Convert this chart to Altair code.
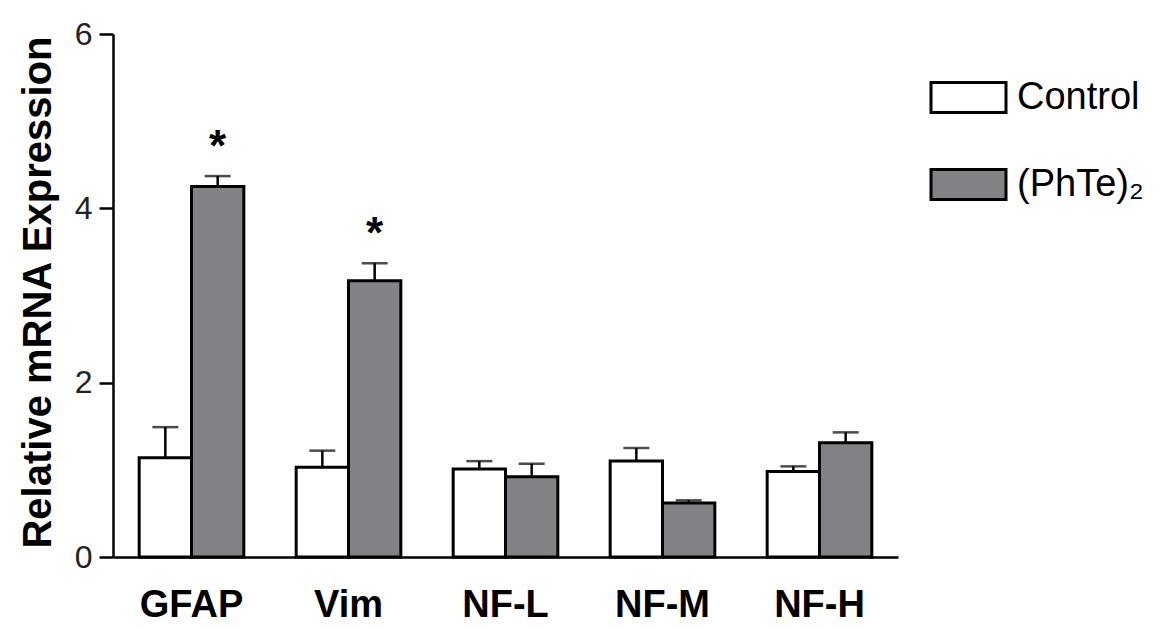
import altair as alt
import pandas as pd

genes = ["GFAP", "Vim", "NF-L", "NF-M", "NF-H"]
groups = ["Control", "(PhTe)₂"]
control_mean = [1.14, 1.03, 1.01, 1.10, 0.98]
control_sem = [0.35, 0.19, 0.09, 0.15, 0.06]
phte_mean = [4.25, 3.17, 0.92, 0.62, 1.31]
phte_sem = [0.12, 0.20, 0.15, 0.03, 0.12]
phte_significant = [True, True, False, False, False]
y_ticks = [0, 2, 4, 6]

rows = []
for i, g in enumerate(genes):
    rows.append({"gene": g, "group": groups[0], "mean": control_mean[i],
                 "hi": control_mean[i] + control_sem[i], "star": False})
    rows.append({"gene": g, "group": groups[1], "mean": phte_mean[i],
                 "hi": phte_mean[i] + phte_sem[i], "star": phte_significant[i]})
df = pd.DataFrame(rows)

FONT = "Liberation Sans"
GREY = "#838186"

x = alt.X("gene:N", sort=genes,
          scale=alt.Scale(paddingInner=0, paddingOuter=0),
          axis=alt.Axis(title=None, labelAngle=0, ticks=False, labelFont=FONT,
                        labelFontSize=38, labelFontWeight="bold", labelColor="black",
                        labelPadding=29, domainColor="black", domainWidth=2.5))
xo = alt.XOffset("group:N", sort=groups,
                 scale=alt.Scale(domain=groups, paddingInner=0, paddingOuter=0.5))
y_axis = alt.Axis(title="Relative mRNA Expression", values=y_ticks, format="d",
                  grid=False,
                  domainColor="black", domainWidth=2.5, tickColor="black",
                  tickWidth=2.5, tickSize=14, labelFont=FONT, labelFontSize=32,
                  labelColor="#222222", labelPadding=7, titleFont=FONT,
                  titleFontSize=40, titleFontWeight="bold", titleColor="black",
                  titleX=-63, titleY=258, titleBaseline="alphabetic",
                  titleAlign="center", titleAngle=270)
y_scale = alt.Scale(domain=[0, 6], nice=False)

base = alt.Chart(df)

err_line = base.mark_rule(color="black", strokeWidth=2.5).encode(
    x=x, xOffset=xo,
    y=alt.Y("mean:Q", scale=y_scale, axis=y_axis),
    y2="hi:Q")

bars = base.mark_bar(stroke="black", strokeWidth=3).encode(
    x=x, xOffset=xo,
    y=alt.Y("mean:Q", scale=y_scale, axis=y_axis),
    fill=alt.Fill("group:N", sort=groups,
                  scale=alt.Scale(domain=groups, range=["white", GREY]),
                  legend=alt.Legend(title=None, orient="none", legendX=824,
                                    legendY=32, direction="vertical",
                                    symbolType="M -1.25 -0.5 H 1.25 V 0.5 H -1.25 Z",
                                    symbolSize=3600, symbolStrokeColor="black",
                                    symbolStrokeWidth=3, labelFont=FONT,
                                    labelFontSize=38, labelColor="black",
                                    labelOffset=17, rowPadding=34,
                                    labelLimit=400)))

caps = base.mark_tick(color="black", size=26, thickness=2.5, orient="horizontal").encode(
    x=x, xOffset=xo,
    y=alt.Y("hi:Q", scale=y_scale))

stars = base.transform_filter("datum.star").mark_text(
    text="*", font=FONT, fontSize=44, fontWeight="bold", color="black",
    baseline="alphabetic", dy=-15).encode(
    x=x, xOffset=xo,
    y=alt.Y("hi:Q", scale=y_scale))

chart = alt.layer(err_line, bars, caps, stars).properties(
    width=785, height=523,
    padding={"left": 113, "top": 34, "right": 278, "bottom": 72},
    autosize=alt.AutoSizeParams(type="none"),
    background="white",
).configure_view(strokeWidth=0, stroke="transparent")

chart.save("out.html", embed_options={"renderer": "svg", "actions": False})
